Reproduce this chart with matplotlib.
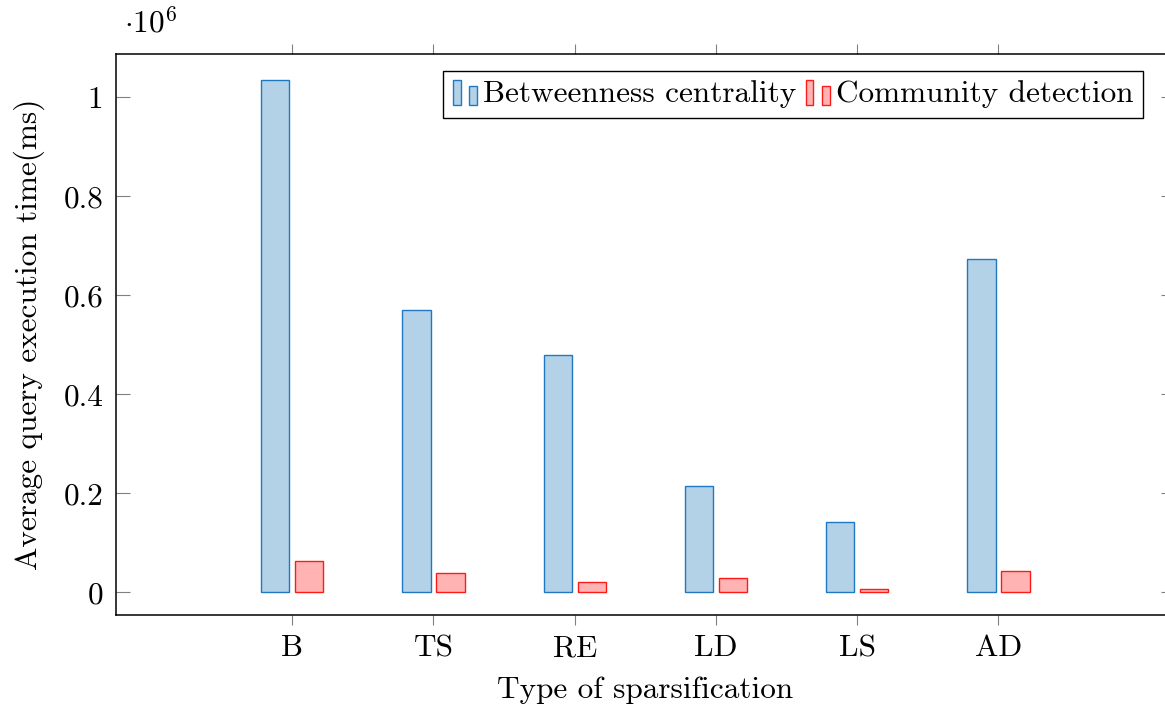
import matplotlib.pyplot as plt
import numpy as np
from matplotlib.legend_handler import HandlerBase
from matplotlib.patches import Rectangle

plt.rcParams['font.family'] = 'cmr10'
plt.rcParams['mathtext.fontset'] = 'cm'
plt.rcParams['axes.formatter.use_mathtext'] = True

methods = ['B', 'TS', 'RE', 'LD', 'LS', 'AD']
# average query execution time in units of 10^6 ms
betweenness = [1.034, 0.570, 0.479, 0.214, 0.142, 0.673]
community = [0.064, 0.038, 0.020, 0.028, 0.006, 0.043]

blue_edge, blue_fill = '#1f78c1', '#b4d2e7'
red_edge, red_fill = '#ff1a1a', '#ffb3b3'
fs = 22.5


class TwoBarHandler(HandlerBase):
    # pgfplots-like legend image: two small bars of unequal height
    def create_artists(self, legend, orig_handle, xdescent, ydescent,
                       width, height, fontsize, trans):
        fc = orig_handle.get_facecolor()
        ec = orig_handle.get_edgecolor()
        w = width * 0.32
        y0 = -ydescent - 0.1 * height
        r1 = Rectangle((-xdescent, y0), w, height * 1.15,
                       facecolor=fc, edgecolor=ec, lw=1, transform=trans)
        r2 = Rectangle((-xdescent + width - w, y0), w, height * 0.87,
                       facecolor=fc, edgecolor=ec, lw=1, transform=trans)
        return [r1, r2]


fig = plt.figure(figsize=(11.65, 7.12), dpi=100)
W, H = 1165, 712
left, right, top, bottom = 115.7, 1175, 53.7, 615
ax = fig.add_axes([left / W, (H - bottom) / H, (right - left) / W, (bottom - top) / H])

x = np.arange(len(methods))
bw = 0.2
b1 = ax.bar(x - 0.12, betweenness, bw, color=blue_fill, edgecolor=blue_edge, linewidth=1,
            label='Betweenness centrality')
b2 = ax.bar(x + 0.12, community, bw, color=red_fill, edgecolor=red_edge, linewidth=1,
            label='Community detection')

ax.set_xlim(-1.25, 6.25)
ax.set_ylim(-0.0459, 1.088)
ax.set_xticks(x)
ax.set_xticklabels(methods)
ax.set_yticks([0, 0.2, 0.4, 0.6, 0.8, 1.0])
ax.set_yticklabels(['0', '0.2', '0.4', '0.6', '0.8', '1'])

ax.tick_params(axis='x', direction='out', top=True, bottom=True, length=7,
               width=0.8, color='#808080', labelsize=fs, pad=7)
ax.tick_params(axis='y', direction='in', left=True, right=True, length=10,
               width=0.8, color='#808080', labelsize=fs, pad=9)
for s in ax.spines.values():
    s.set_linewidth(1.1)

ax.set_xlabel('Type of sparsification', fontsize=fs, labelpad=10)
ax.set_ylabel('Average query execution time(ms)', fontsize=fs, labelpad=13)
ax.text(0.008, 1.025, r'$\cdot 10^6$', transform=ax.transAxes, fontsize=fs,
        ha='left', va='bottom')

leg = ax.legend(handles=[b1.patches[0], b2.patches[0]],
                labels=['Betweenness centrality', 'Community detection'],
                handler_map={Rectangle: TwoBarHandler()},
                loc='upper right', bbox_to_anchor=(0.97, 0.97), borderaxespad=0,
                ncol=2, fontsize=fs, fancybox=False, framealpha=1,
                edgecolor='black', handlelength=0.77, handletextpad=0.19,
                columnspacing=0.3, borderpad=0.32, handleheight=0.7)
leg.get_frame().set_linewidth(1)

fig.savefig('out.png', dpi=100)
